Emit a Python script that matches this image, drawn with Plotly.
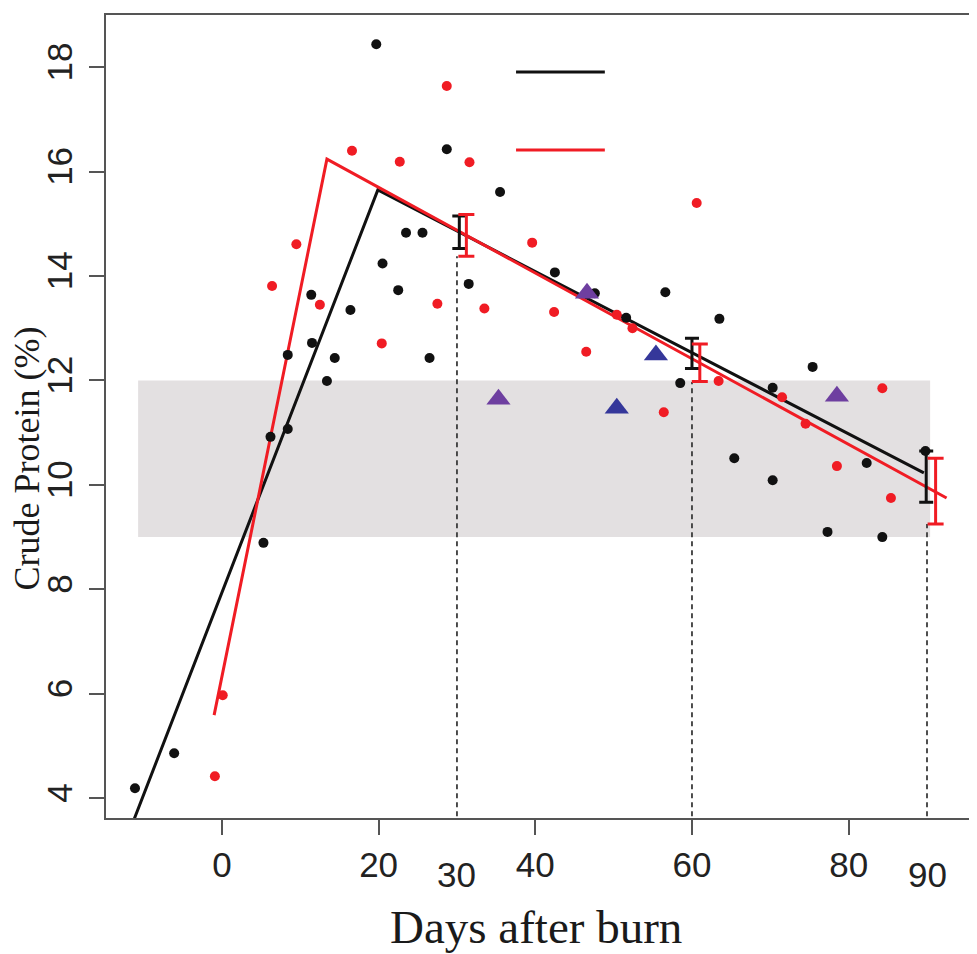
import plotly.graph_objects as go

# ---------------- data ----------------
black_days = [-11.1, -6.1, 5.3, 6.2, 8.4, 8.4, 11.4, 11.5, 13.4, 14.4, 16.4, 19.7, 20.5,
              22.5, 23.5, 25.6, 26.5, 28.7, 31.5, 35.5, 42.5, 47.6, 51.6, 56.6, 58.5,
              63.5, 65.4, 70.3, 70.3, 75.4, 77.3, 82.3, 84.3, 89.8]
black_cp = [4.19, 4.86, 8.89, 10.92, 11.07, 12.49, 13.64, 12.72, 11.99, 12.43, 13.35, 18.44, 14.24,
            13.73, 14.83, 14.83, 12.43, 16.43, 13.85, 15.61, 14.07, 13.67, 13.20, 13.69, 11.95,
            13.18, 10.51, 11.86, 10.09, 12.26, 9.10, 10.42, 9.00, 10.65]

red_days = [-0.9, 0.1, 6.4, 9.5, 12.5, 16.6, 20.4, 22.7, 27.5, 28.7, 31.6, 33.5, 39.6,
            42.4, 46.5, 50.4, 52.4, 56.4, 60.6, 63.4, 71.5, 74.5, 78.5, 84.3, 85.4]
red_cp = [4.42, 5.97, 13.81, 14.61, 13.45, 16.40, 12.71, 16.19, 13.47, 17.64, 16.18, 13.38, 14.64,
          13.31, 12.55, 13.26, 13.00, 11.39, 15.40, 11.99, 11.68, 11.17, 10.36, 11.85, 9.75]

purple_days = [35.3, 46.6, 78.5]
purple_cp = [11.64, 13.67, 11.70]
blue_days = [50.4, 55.4]
blue_cp = [11.47, 12.49]

# piecewise fits
black_fit_days = [-11.2, 19.9, 89.6]
black_fit_cp = [3.60, 15.65, 10.23]
red_fit_days = [-1.0, 13.4, 92.5]
red_fit_cp = [5.59, 16.24, 9.75]

# mean +/- error at sampling dates
black_bar_days = [30.3, 60.0, 89.9]
black_bar_cp = [14.84, 12.52, 10.16]
black_bar_err = [0.31, 0.29, 0.49]
red_bar_days = [31.2, 61.0, 91.1]
red_bar_cp = [14.78, 12.34, 9.88]
red_bar_err = [0.40, 0.36, 0.63]

# sampling dates (dashed guides) and their top value
sample_days = [30, 60, 90]
sample_top = [14.38, 11.97, 9.25]

# reference band
band_days = [-10.7, 90.4]
band_cp = [9.0, 12.0]

x_ticks = [0, 20, 40, 60, 80]
extra_x_ticks = [30, 90]
y_ticks = [4, 6, 8, 10, 12, 14, 16, 18]

x_range = [-14.8, 96.0]
y_range = [3.62, 19.0]

# ---------------- styling ----------------
RED = "#f01c24"
BLACK = "#111111"
PURPLE = "#6e3fa0"
BLUE = "#35379a"
FRAME = "#555555"
SANS = "Liberation Sans, Arial, sans-serif"
SERIF = "Liberation Serif, Times New Roman, serif"

fig = go.Figure()

# band
fig.add_shape(type="rect", xref="x", yref="y",
              x0=band_days[0], x1=band_days[1], y0=band_cp[0], y1=band_cp[1],
              fillcolor="#e3e0e1", line_width=0, layer="below")

# dashed guides
gx, gy = [], []
for d, t in zip(sample_days, sample_top):
    gx += [d, d, None]
    gy += [y_range[0] - 1, t, None]
fig.add_trace(go.Scatter(x=gx, y=gy, mode="lines",
                         line=dict(color="#3c3c3c", width=1.8, dash="5px,4px"),
                         hoverinfo="skip", showlegend=False))

# fitted lines
fig.add_trace(go.Scatter(x=black_fit_days, y=black_fit_cp, mode="lines",
                         line=dict(color=BLACK, width=3), showlegend=False))
fig.add_trace(go.Scatter(x=red_fit_days, y=red_fit_cp, mode="lines",
                         line=dict(color=RED, width=3), showlegend=False))

# points
fig.add_trace(go.Scatter(x=black_days, y=black_cp, mode="markers",
                         marker=dict(color=BLACK, size=10), showlegend=False))
fig.add_trace(go.Scatter(x=red_days, y=red_cp, mode="markers",
                         marker=dict(color=RED, size=10), showlegend=False))
fig.add_trace(go.Scatter(x=purple_days, y=purple_cp, mode="markers",
                         marker=dict(color=PURPLE, size=21, symbol="triangle-up"),
                         showlegend=False))
fig.add_trace(go.Scatter(x=blue_days, y=blue_cp, mode="markers",
                         marker=dict(color=BLUE, size=21, symbol="triangle-up"),
                         showlegend=False))

# error bars
fig.add_trace(go.Scatter(x=black_bar_days, y=black_bar_cp, mode="markers",
                         marker=dict(size=1, color="rgba(0,0,0,0)"),
                         error_y=dict(type="data", array=black_bar_err, color=BLACK,
                                      thickness=3, width=7),
                         showlegend=False))
fig.add_trace(go.Scatter(x=red_bar_days, y=red_bar_cp, mode="markers",
                         marker=dict(size=1, color="rgba(0,0,0,0)"),
                         error_y=dict(type="data", array=red_bar_err, color=RED,
                                      thickness=3, width=8),
                         showlegend=False))

# legend keys (text-less, as in the original)
fig.add_shape(type="line", xref="paper", yref="paper", x0=0.4724, x1=0.5747,
              y0=0.929, y1=0.929, line=dict(color=BLACK, width=3))
fig.add_shape(type="line", xref="paper", yref="paper", x0=0.4724, x1=0.5747,
              y0=0.832, y1=0.832, line=dict(color=RED, width=3))

# extra labels at 30 and 90
for d in extra_x_ticks:
    fig.add_annotation(x=d, xref="x", y=0, yref="paper", text=str(d), showarrow=False,
                       yanchor="middle", yshift=-56,
                       font=dict(family=SANS, size=35, color="#222222"))

# axis titles
fig.add_annotation(x=0.5, xref="paper", y=0, yref="paper", text="Days after burn",
                   showarrow=False, yanchor="middle", yshift=-109, xshift=-4,
                   font=dict(family=SERIF, size=47, color="#1a1a1a"))
fig.add_annotation(x=0, xref="paper", y=0.5, yref="paper", text="Crude Protein (%)",
                   showarrow=False, textangle=-90, xanchor="center", yanchor="middle",
                   xshift=-80, yshift=-42, borderpad=0,
                   font=dict(family=SERIF, size=36, color="#1a1a1a"))

fig.update_layout(
    width=969, height=946,
    margin=dict(l=98, r=1, t=7, b=136),
    paper_bgcolor="white", plot_bgcolor="white",
    showlegend=False,
    xaxis=dict(range=x_range, tickvals=x_ticks, ticks="outside", ticklen=15, tickwidth=2,
               tickcolor=FRAME, showline=True, linecolor=FRAME, linewidth=2, mirror=True,
               showgrid=False, zeroline=False,
               tickfont=dict(family=SANS, size=35, color="#222222")),
    yaxis=dict(range=y_range, tickvals=y_ticks, ticks="outside", ticklen=15, tickwidth=2,
               tickcolor=FRAME, showline=True, linecolor=FRAME, linewidth=2, mirror=True,
               showgrid=False, zeroline=False, tickangle=-90, ticklabelstandoff=3,
               tickfont=dict(family=SANS, size=35, color="#222222")),
)

fig.write_html("out.html")
